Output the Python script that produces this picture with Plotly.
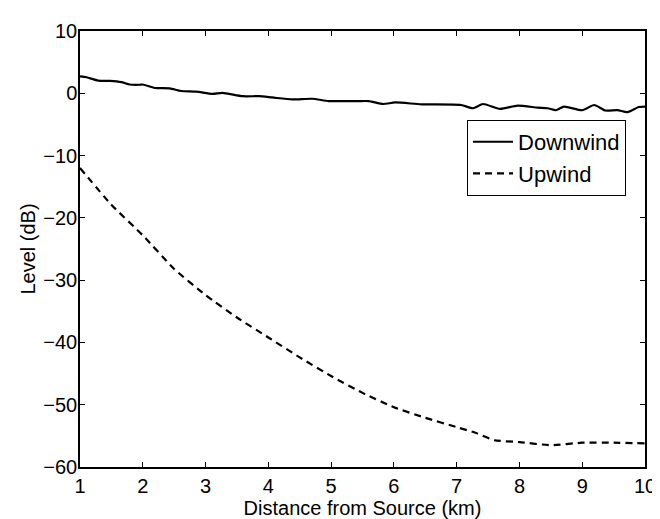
import plotly.graph_objects as go

# Downwind level (dB) vs distance (km)
down_x = [1.0, 1.106, 1.29, 1.475, 1.66, 1.79, 1.95, 2.0, 2.19, 2.43, 2.61, 2.85, 3.11, 3.27,
          3.59, 3.85, 4.06, 4.38, 4.70, 4.96, 5.2, 5.44, 5.6, 5.83, 6.02, 6.44, 7.07, 7.26,
          7.42, 7.69, 7.97, 8.29, 8.45, 8.58, 8.71, 9.0, 9.19, 9.37, 9.56, 9.72, 9.9, 10.0]
down_y = [2.73, 2.57, 2.04, 1.99, 1.79, 1.41, 1.37, 1.41, 0.85, 0.79, 0.37, 0.27, -0.1, 0.06,
          -0.47, -0.47, -0.67, -0.99, -0.88, -1.25, -1.25, -1.25, -1.25, -1.72, -1.47, -1.77,
          -1.88, -2.4, -1.72, -2.5, -1.98, -2.3, -2.4, -2.72, -2.14, -2.72, -1.88, -2.77,
          -2.7, -3.03, -2.2, -2.14]

# Upwind level (dB) vs distance (km)
up_x = [1.0, 1.5, 2.0, 2.5, 3.0, 3.5, 4.0, 4.5, 5.0, 5.5, 6.0, 6.5, 7.0, 7.3, 7.6,
        8.0, 8.5, 9.0, 9.5, 10.0]
up_y = [-12.0, -17.9, -22.8, -28.2, -32.4, -36.0, -39.2, -42.4, -45.4, -48.1, -50.4,
        -52.1, -53.6, -54.5, -55.7, -56.0, -56.5, -56.1, -56.1, -56.2]

x_ticks = [1, 2, 3, 4, 5, 6, 7, 8, 9, 10]
y_ticks = [10, 0, -10, -20, -30, -40, -50, -60]
y_tick_text = ["10", "0", "\u221210", "\u221220", "\u221230", "\u221240", "\u221250", "\u221260"]

font = "Liberation Sans, Arial, Helvetica, sans-serif"
fs = 20

fig = go.Figure()
fig.add_trace(go.Scatter(x=down_x, y=down_y, mode="lines", name="Downwind",
                         line=dict(color="black", width=2.2, shape="spline", smoothing=0.6)))
fig.add_trace(go.Scatter(x=up_x, y=up_y, mode="lines", name="Upwind",
                         line=dict(color="black", width=2.2, dash="7px,5px",
                                   shape="spline", smoothing=0.5)))

axis_common = dict(showgrid=False, zeroline=False, showline=True, linecolor="black",
                   linewidth=1.5, mirror="ticks", ticks="inside", ticklen=5,
                   tickcolor="black", tickwidth=1,
                   tickfont=dict(family=font, size=fs, color="black"))

fig.update_xaxes(range=[1, 10], tickvals=x_ticks,
                 title=dict(text="Distance from Source (km)", standoff=0,
                            font=dict(family=font, size=fs, color="black")),
                 **axis_common)
fig.update_yaxes(range=[-60, 10], tickvals=y_ticks, ticktext=y_tick_text,
                 ticklabelstandoff=-3,
                 title=dict(text="Level (dB)", standoff=2,
                            font=dict(family=font, size=fs, color="black")),
                 **axis_common)

fig.update_layout(
    width=660, height=519,
    margin=dict(l=72, r=20, t=13, b=60),
    paper_bgcolor="white", plot_bgcolor="white",
    font=dict(family=font, size=fs, color="black"),
    legend=dict(x=0.685, y=0.796, xanchor="left", yanchor="top",
                bgcolor="white", bordercolor="black", borderwidth=1,
                font=dict(family=font, size=22, color="black"),
                tracegroupgap=0, itemwidth=40),
    showlegend=True,
)

fig.write_html("out.html")
